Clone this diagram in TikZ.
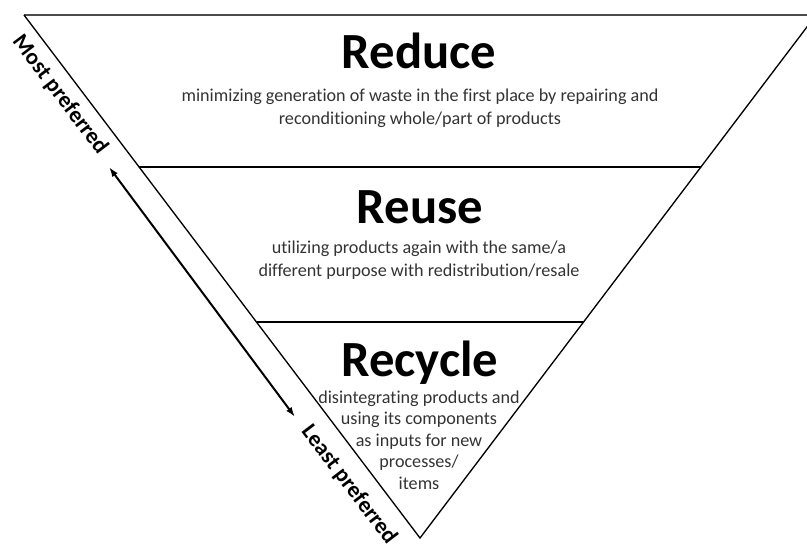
\documentclass[tikz,border=0pt]{standalone}
\usepackage{fontspec}
\setmainfont[Ligatures={NoCommon}]{Carlito}
\usetikzlibrary{arrows.meta}
\tikzset{
  edge/.style={line width=1pt, black},
  topedge/.style={line width=1.6pt, black!70},
  title/.style={font=\fontsize{38}{40}\selectfont\bfseries, inner sep=0pt, anchor=base},
  body/.style={font=\fontsize{13.6}{17.2}\selectfont, text=black!80, align=center, inner sep=0pt},
  side/.style={font=\fontsize{17}{20}\selectfont\bfseries, inner sep=0pt, rotate=-52.8},
  prefarrow/.style={line width=1.5pt, {Latex[length=7.5pt,width=5pt]}-{Latex[length=7.5pt,width=5pt]}}
}
\begin{document}
\begin{tikzpicture}[x=0.75pt,y=-0.75pt]
\useasboundingbox (0,0) rectangle (807,544);
\clip (0,0) rectangle (807,544);
% triangle corners
\coordinate (tl) at (24,15);
\coordinate (tr) at (816,15);
\coordinate (ap) at (420,538);
\coordinate (l1) at (139,167);
\coordinate (r1) at (701,167);
\coordinate (l2) at (257,322);
\coordinate (r2) at (583,322);
\draw[topedge] (tl) -- (tr);
\draw[edge] (tl) -- (ap) -- (tr);
\draw[edge] (l1) -- (r1);
\draw[edge] (l2) -- (r2);
% titles
\node[title] (reduce) at (419,68) {Reduce};
\node[title] (reuse) at (420,223) {Reuse};
\node[title] (recycle) at (420,376) {Recycle};
% descriptions
\node[body] (reducetxt) at (420,108) {minimizing generation of waste in the first place by repairing and\\reconditioning whole/part of products};
\node[body] (reusetxt) at (419,260) {utilizing products again with the same/a\\different purpose with redistribution/resale};
\node[body, font=\fontsize{13.6}{16.2}\selectfont] (recycletxt) at (419,440) {disintegrating products and\\using its components\\as inputs for new\\processes/\\items};
% preference scale
\coordinate (amost) at (109,167);
\coordinate (aleast) at (295,417);
\draw[prefarrow] (amost) -- (aleast);
\node[side] (most) at (60,95) {Most preferred};
\node[side] (least) at (349,485) {Least preferred};
\end{tikzpicture}
\end{document}
